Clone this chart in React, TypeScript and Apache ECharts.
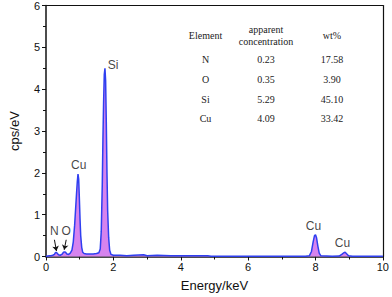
import React, { useEffect, useRef } from "react";
import * as echarts from "echarts";

const energy = [
  0.0, 0.05, 0.1, 0.15, 0.2, 0.25, 0.28, 0.3, 0.33, 0.37, 0.42, 0.47, 0.52, 0.55, 0.58, 0.62, 0.67, 0.72, 0.77,
  0.81, 0.85, 0.88, 0.91, 0.93, 0.95, 0.97, 0.99, 1.01, 1.03, 1.06, 1.09, 1.13, 1.2, 1.3, 1.4, 1.5, 1.57, 1.61,
  1.64, 1.67, 1.69, 1.71, 1.73, 1.75, 1.77, 1.79, 1.81, 1.83, 1.86, 1.89, 1.93, 2.0, 2.2, 2.4, 2.6, 2.9, 3.0,
  3.3, 3.7, 4.2, 4.8, 4.9, 6.0, 7.0, 7.7, 7.82, 7.88, 7.93, 7.97, 8.0, 8.03, 8.07, 8.11, 8.16, 8.5, 8.7, 8.78,
  8.84, 8.88, 8.93, 8.98, 9.1, 10.0,
];
const counts = [
  0.0, 0.01, 0.02, 0.02, 0.03, 0.05, 0.09, 0.1, 0.08, 0.04, 0.03, 0.05, 0.1, 0.11, 0.1, 0.06, 0.05, 0.08, 0.15,
  0.35, 0.75, 1.15, 1.55, 1.8, 1.97, 1.85, 1.4, 0.9, 0.5, 0.22, 0.1, 0.07, 0.06, 0.06, 0.06, 0.07, 0.09, 0.18,
  0.6, 1.7, 2.8, 3.7, 4.35, 4.5, 4.2, 3.2, 2.0, 1.1, 0.45, 0.15, 0.05, 0.03, 0.03, 0.02, 0.03, 0.04, 0.02,
  0.03, 0.02, 0.02, 0.02, 0.005, 0.005, 0.005, 0.005, 0.02, 0.12, 0.35, 0.5, 0.52, 0.45, 0.25, 0.08, 0.015,
  0.005, 0.01, 0.05, 0.09, 0.1, 0.06, 0.02, 0.005, 0.005,
];

const peakLabels = ["N", "O", "Cu", "Si", "Cu", "Cu"];
const peakLabelX = [0.25, 0.6, 0.97, 1.99, 7.94, 8.8];
const peakLabelY = [0.61, 0.61, 2.19, 4.57, 0.73, 0.33];

const arrowFrom = [
  [0.25, 0.4],
  [0.6, 0.4],
];
const arrowTo = [
  [0.31, 0.13],
  [0.54, 0.16],
];

const tableHeader = ["Element", "apparent\nconcentration", "wt%"];
const tableElements = ["N", "O", "Si", "Cu"];
const tableConc = ["0.23", "0.35", "5.29", "4.09"];
const tableWt = ["17.58", "3.90", "45.10", "33.42"];

const xTicks = [0, 2, 4, 6, 8, 10];
const yTicks = [0, 1, 2, 3, 4, 5, 6];

export default function App() {
  const ref = useRef<HTMLDivElement>(null);
  useEffect(() => {
    if (!ref.current) return;
    const chart = echarts.init(ref.current, undefined, { renderer: "svg" });
    const sans = "Liberation Sans, Arial, sans-serif";
    const serif = "Liberation Serif, Times New Roman, serif";
    const colX = [205.5, 266, 332];
    const rowY = [59.5, 79, 99, 118.5];
    const tableTexts: any[] = [];
    tableHeader.forEach((h, i) => {
      tableTexts.push({
        type: "text",
        x: colX[i],
        y: 35.5,
        style: {
          text: h,
          font: `10px ${serif}`,
          fill: "#222",
          align: "center",
          verticalAlign: "middle",
          lineHeight: 12,
        },
      });
    });
    const cols = [tableElements, tableConc, tableWt];
    cols.forEach((col, ci) => {
      col.forEach((t, ri) => {
        tableTexts.push({
          type: "text",
          x: colX[ci],
          y: rowY[ri],
          style: {
            text: t,
            font: `10px ${serif}`,
            fill: "#222",
            align: "center",
            verticalAlign: "middle",
          },
        });
      });
    });

    const frameAxis = {
      type: "value",
      min: 0,
      axisLine: { show: true, onZero: false, lineStyle: { color: "#111", width: 1.2 } },
      axisTick: { show: false },
      axisLabel: { show: false },
      splitLine: { show: false },
    };

    chart.setOption({
      animation: false,
      grid: {
        left: 43.5,
        right: 6.5,
        top: 5,
        bottom: 40.5,
        containLabel: false,
      },
      xAxis: [
        {
          type: "value",
          min: 0,
          max: 10,
          interval: 2,
          name: "Energy/keV",
          nameLocation: "middle",
          nameGap: 22,
          nameTextStyle: { fontFamily: sans, fontSize: 13, color: "#111" },
          axisLine: { onZero: false, lineStyle: { color: "#111", width: 1.5 } },
          axisTick: { show: true, length: 4, lineStyle: { color: "#111" } },
          minorTick: { show: true, splitNumber: 2, length: 3, lineStyle: { color: "#111" } },
          splitLine: { show: false },
          axisLabel: {
            fontFamily: sans,
            fontSize: 11,
            color: "#111",
            margin: 5,
            showMinLabel: true,
            showMaxLabel: true,
            formatter: (v: number) => (xTicks.includes(v) ? String(v) : ""),
          },
        },
        { ...frameAxis, max: 10, position: "top" },
      ],
      yAxis: [
        {
          type: "value",
          min: 0,
          max: 6,
          interval: 1,
          name: "cps/eV",
          nameLocation: "middle",
          nameGap: 25,
          nameTextStyle: { fontFamily: sans, fontSize: 13, color: "#111" },
          axisLine: { show: true, onZero: false, lineStyle: { color: "#111", width: 1.5 } },
          axisTick: { show: true, length: 4, lineStyle: { color: "#111" } },
          minorTick: { show: true, splitNumber: 2, length: 3, lineStyle: { color: "#111" } },
          splitLine: { show: false },
          axisLabel: {
            fontFamily: sans,
            fontSize: 11,
            color: "#111",
            margin: 6,
            showMinLabel: true,
            showMaxLabel: true,
            formatter: (v: number) => (yTicks.includes(v) ? String(v) : ""),
          },
        },
        { ...frameAxis, max: 6, position: "right" },
      ],
      series: [
        {
          type: "line",
          data: energy.map((e, i) => [e, counts[i]]),
          symbol: "none",
          lineStyle: { color: "#2f3ff0", width: 1.5 },
          areaStyle: { color: "#d683ee", opacity: 1 },
          z: 2,
        },
        {
          type: "scatter",
          data: peakLabels.map((t, i) => ({ value: [peakLabelX[i], peakLabelY[i]], name: t })),
          symbolSize: 0,
          silent: true,
          label: {
            show: true,
            position: "inside",
            formatter: (p: any) => p.name,
            fontFamily: sans,
            fontSize: 12,
            color: "#111",
          },
          z: 5,
        },
        {
          type: "line",
          data: [],
          markLine: {
            silent: true,
            symbol: ["none", "arrow"],
            symbolSize: 5,
            label: { show: false },
            lineStyle: { color: "#111", width: 1, type: "solid" },
            data: arrowFrom.map((f, i) => [{ coord: f }, { coord: arrowTo[i] }]),
          },
        },
      ],
      graphic: tableTexts,
    });
    return () => chart.dispose();
  }, []);
  return <div ref={ref} style={{ position: "absolute", left: 0, top: 0, width: 392, height: 297 }} />;
}
